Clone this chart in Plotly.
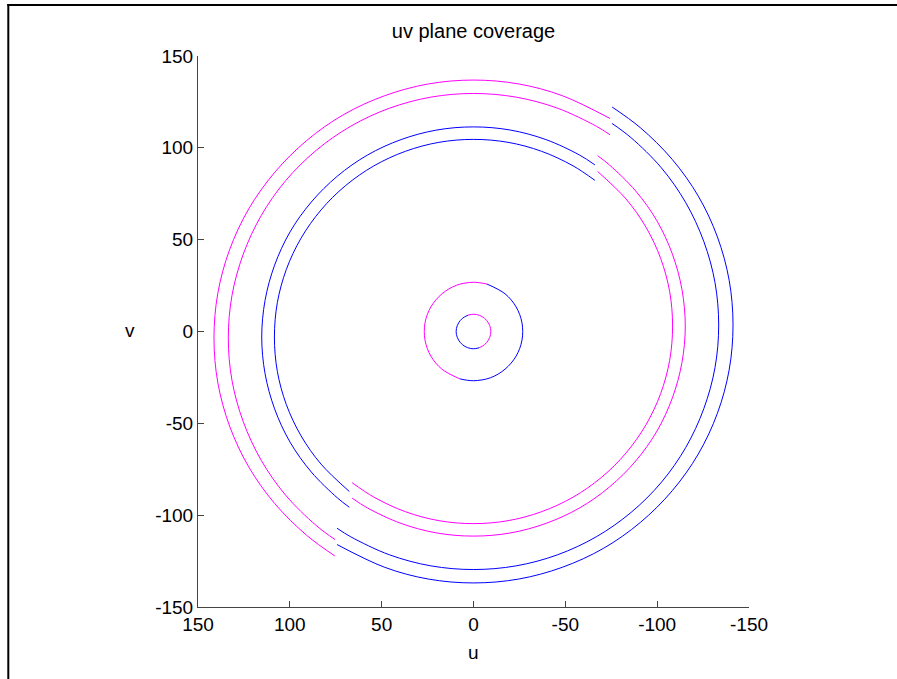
import plotly.graph_objects as go

# uv tracks (units as plotted). Each track is drawn together with its
# conjugate (-u, -v) in the other colour.

# baseline 1 - short, inner ring
b1_u = [3.0, 0.0, -3.2, -6.0, -8.1, -9.3, -9.3, -8.1, -6.0, -3.0]
b1_v = [8.9, 9.4, 8.8, 7.2, 4.7, 1.6, -1.6, -4.7, -7.2, -8.9]

# baseline 2 - middle ring
b2_u = [-7.4, 0.0, 9.2, 17.2, 23.2, 26.4, 26.4, 23.2, 17.2, 7.4]
b2_v = [25.8, 26.8, 25.2, 20.5, 13.4, 4.7, -4.7, -13.4, -20.5, -25.8]

# baseline 3
b3_u = [-66.1, -54.2, -37.1, -18.8, 0.0, 18.8, 37.1, 54.2, 69.7, 83.0, 93.9,
        101.9, 106.8, 108.4, 106.8, 101.9, 93.9, 83.0, 67.6]
b3_v = [82.3, 90.2, 98.1, 103.0, 104.6, 103.0, 98.1, 90.2, 79.4, 66.2, 50.8,
        33.8, 15.7, -3.0, -21.7, -39.8, -56.8, -72.2, -87.1]

# baseline 4
b4_u = [-66.1, -57.7, -39.4, -20.0, 0.0, 20.0, 39.4, 57.7, 74.1, 88.3, 99.9,
        108.3, 113.5, 115.3, 113.5, 108.3, 99.9, 88.3, 74.1, 67.6]
b4_v = [90.7, 96.1, 104.5, 109.7, 111.4, 109.7, 104.5, 96.1, 84.6, 70.5, 54.2,
        36.1, 16.9, -3.0, -22.9, -42.1, -60.2, -76.5, -90.6, -95.7]

# baseline 5
b5_u = [-74.3, -66.8, -45.7, -23.2, 0.0, 23.2, 45.7, 66.8, 85.8, 102.3, 115.6,
        125.4, 131.5, 133.5, 131.5, 125.4, 115.6, 102.3, 85.8, 75.4]
b5_v = [107.1, 111.8, 121.6, 127.6, 129.6, 127.6, 121.6, 111.8, 98.5, 82.1, 63.1,
        42.0, 19.6, -3.5, -26.6, -49.0, -70.1, -89.1, -105.5, -113.3]

# baseline 6 - longest
b6_u = [-74.3, -48.3, -24.5, 0.0, 24.5, 48.3, 70.7, 90.8, 108.2, 122.4, 132.8,
        139.2, 141.3, 139.2, 132.8, 122.4, 108.2, 90.8, 75.5]
b6_v = [116.0, 128.4, 134.8, 136.9, 134.8, 128.4, 118.1, 104.0, 86.7, 66.7, 44.5,
        20.9, -3.5, -27.9, -51.5, -73.7, -93.7, -111.0, -122.2]

MAGENTA = "#FF00FF"
BLUE = "#0000FF"

tracks = [
    (b1_u, b1_v, MAGENTA),
    (b2_u, b2_v, MAGENTA),
    (b3_u, b3_v, BLUE),
    (b4_u, b4_v, BLUE),
    (b5_u, b5_v, MAGENTA),
    (b6_u, b6_v, MAGENTA),
]

fig = go.Figure()
for u, v, col in tracks:
    other = BLUE if col == MAGENTA else MAGENTA
    fig.add_trace(go.Scatter(x=u, y=v, mode="lines",
                             line=dict(color=col, width=1, shape="spline"),
                             hoverinfo="skip", showlegend=False))
    fig.add_trace(go.Scatter(x=[-a for a in u], y=[-b for b in v], mode="lines",
                             line=dict(color=other, width=1, shape="spline"),
                             hoverinfo="skip", showlegend=False))

W, H = 897, 679
L, R, T, B = 198, 148, 56, 72
PW, PH = W - L - R, H - T - B


def px_x(px):
    return (px - L) / PW


def px_y(py):
    return (H - B - py) / PH


FONT = "Liberation Sans, Arial, Helvetica, sans-serif"
tick_vals = [150, 100, 50, 0, -50, -100, -150]

axis_common = dict(
    showgrid=False, zeroline=False, showline=True, linecolor="#444444",
    linewidth=1, ticks="inside", ticklen=6, tickcolor="#444444",
    tickfont=dict(family=FONT, size=19, color="#000000"),
    tickvals=tick_vals, ticktext=[str(t) for t in tick_vals],
    mirror=False, fixedrange=True,
)

fig.update_layout(
    width=W, height=H,
    margin=dict(l=L, r=R, t=T, b=B),
    paper_bgcolor="white", plot_bgcolor="white",
    xaxis=dict(range=[150, -150], **axis_common),
    yaxis=dict(range=[-150, 150], **axis_common),
    title=dict(text="uv plane coverage", x=0.5, xref="paper",
               y=1 - 31 / H, yref="container", yanchor="middle",
               xanchor="center",
               font=dict(family=FONT, size=20, color="#000000")),
    annotations=[
        dict(text="u", x=0.5, xref="paper", y=px_y(652), yref="paper",
             showarrow=False, xanchor="center", yanchor="middle",
             font=dict(family=FONT, size=19, color="#000000")),
        dict(text="v", x=px_x(130), xref="paper", y=px_y(330), yref="paper",
             showarrow=False, xanchor="center", yanchor="middle",
             font=dict(family=FONT, size=19, color="#000000")),
    ],
    shapes=[
        dict(type="line", xref="paper", yref="paper",
             x0=px_x(8.3), x1=px_x(8.3), y0=px_y(4), y1=px_y(700),
             line=dict(color="black", width=2)),
        dict(type="line", xref="paper", yref="paper",
             x0=px_x(7.3), x1=px_x(920), y0=px_y(5), y1=px_y(5),
             line=dict(color="black", width=2)),
    ],
)

fig.write_html("out.html")
